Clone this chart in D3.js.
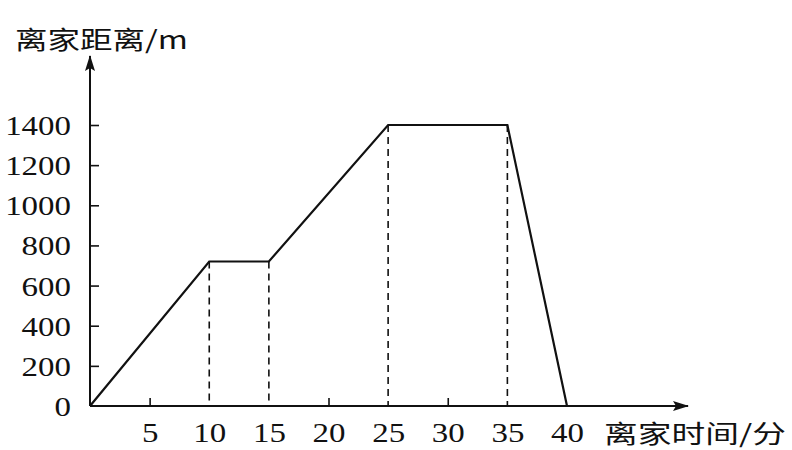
<!DOCTYPE html>
<html>
<head>
<meta charset="utf-8">
<script src="https://cdn.jsdelivr.net/npm/d3@7"></script>
<style>
  body { margin: 0; background: #fff; }
  svg { display: block; }
  .num { font-family: "Liberation Serif", "DejaVu Serif", serif; font-size: 27px; fill: #111; }
  .cn { font-family: "Noto Sans CJK SC", sans-serif; font-size: 25px; fill: #111; }
</style>
</head>
<body>
<div id="chart"></div>
<script>
// time (min) vs distance from home (m)
var times = [0, 10, 15, 25, 35, 40];
var distances = [0, 720, 720, 1400, 1400, 0];
var xTickValues = [5, 10, 15, 20, 25, 30, 35, 40];
var yTickValues = [0, 200, 400, 600, 800, 1000, 1200, 1400];
var guideTimes = [10, 15, 25, 35]; // dashed drop lines
var yLabel = "离家距离/m";
var xLabel = "离家时间/分";

var width = 792, height = 450;
var origin = { x: 90, y: 406 };

var svg = d3.select("#chart").append("svg")
    .attr("width", width)
    .attr("height", height);

var xScale = d3.scaleLinear().domain([0, 40]).range([origin.x, origin.x + 477]);
var yScale = d3.scaleLinear().domain([0, 1400]).range([origin.y, origin.y - 281]);

// arrow marker
svg.append("defs").append("marker")
    .attr("id", "arrow")
    .attr("viewBox", "0 0 16 10")
    .attr("refX", 15).attr("refY", 5)
    .attr("markerWidth", 16).attr("markerHeight", 10)
    .attr("markerUnits", "userSpaceOnUse")
    .attr("orient", "auto")
    .append("path")
    .attr("d", "M0,0 L16,5 L0,10 L3,5 Z")
    .attr("fill", "#111");

// axes lines
svg.append("line")
    .attr("x1", origin.x).attr("y1", origin.y)
    .attr("x2", 688).attr("y2", origin.y)
    .attr("stroke", "#111").attr("stroke-width", 2)
    .attr("marker-end", "url(#arrow)");
svg.append("line")
    .attr("x1", origin.x).attr("y1", origin.y)
    .attr("x2", origin.x).attr("y2", 56)
    .attr("stroke", "#111").attr("stroke-width", 2)
    .attr("marker-end", "url(#arrow)");

// x axis ticks (upwards) via d3 axis
var xAxis = svg.append("g")
    .attr("transform", "translate(0," + origin.y + ")")
    .call(d3.axisBottom(xScale).tickValues(xTickValues).tickFormat(d3.format("d"))
        .tickSizeInner(-8).tickSizeOuter(0).tickPadding(27));
xAxis.select(".domain").remove();
xAxis.selectAll("line").attr("stroke", "#111").attr("stroke-width", 1.6)
    .attr("opacity", function (d) { return guideTimes.indexOf(d) >= 0 || d === 40 ? 0 : 1; });
xAxis.selectAll("text").attr("class", "num").attr("font-size", null).attr("font-family", null)
    .attr("dy", "0.32em");

// y axis ticks (inwards)
var yAxis = svg.append("g")
    .attr("transform", "translate(" + origin.x + ",0)")
    .call(d3.axisLeft(yScale).tickValues(yTickValues).tickFormat(d3.format("d"))
        .tickSizeInner(-9).tickSizeOuter(0).tickPadding(19));
yAxis.select(".domain").remove();
yAxis.selectAll("line").attr("stroke", "#111").attr("stroke-width", 1.6)
    .attr("opacity", function (d) { return d === 0 ? 0 : 1; });
yAxis.selectAll("text").attr("class", "num").attr("font-size", null).attr("font-family", null)
    .attr("dy", "0.35em");

// stretch digits wider like the print
svg.selectAll("text.num").each(function () {
    var w = this.getComputedTextLength();
    d3.select(this).attr("textLength", w * 1.22).attr("lengthAdjust", "spacingAndGlyphs");
});

// dashed guide lines
var points = times.map(function (t, i) { return [t, distances[i]]; });
svg.selectAll(".guide")
    .data(points.filter(function (p) { return guideTimes.indexOf(p[0]) >= 0; }))
    .enter().append("line")
    .attr("class", "guide")
    .attr("x1", function (d) { return xScale(d[0]); })
    .attr("x2", function (d) { return xScale(d[0]); })
    .attr("y1", function (d) { return yScale(d[1]); })
    .attr("y2", yScale(0))
    .attr("stroke", "#111").attr("stroke-width", 1.6)
    .attr("stroke-dasharray", "7,5");

// the distance line
var line = d3.line()
    .x(function (d) { return xScale(d[0]); })
    .y(function (d) { return yScale(d[1]); });
svg.append("path")
    .datum(points)
    .attr("d", line)
    .attr("fill", "none")
    .attr("stroke", "#111")
    .attr("stroke-width", 2.2)
    .attr("stroke-linejoin", "miter");

// axis titles
svg.append("text").attr("class", "cn")
    .attr("x", 15).attr("y", 49)
    .attr("textLength", 173).attr("lengthAdjust", "spacingAndGlyphs")
    .text(yLabel);
svg.append("text").attr("class", "cn")
    .attr("x", 604).attr("y", 443)
    .attr("textLength", 182).attr("lengthAdjust", "spacingAndGlyphs")
    .text(xLabel);
</script>
</body>
</html>
